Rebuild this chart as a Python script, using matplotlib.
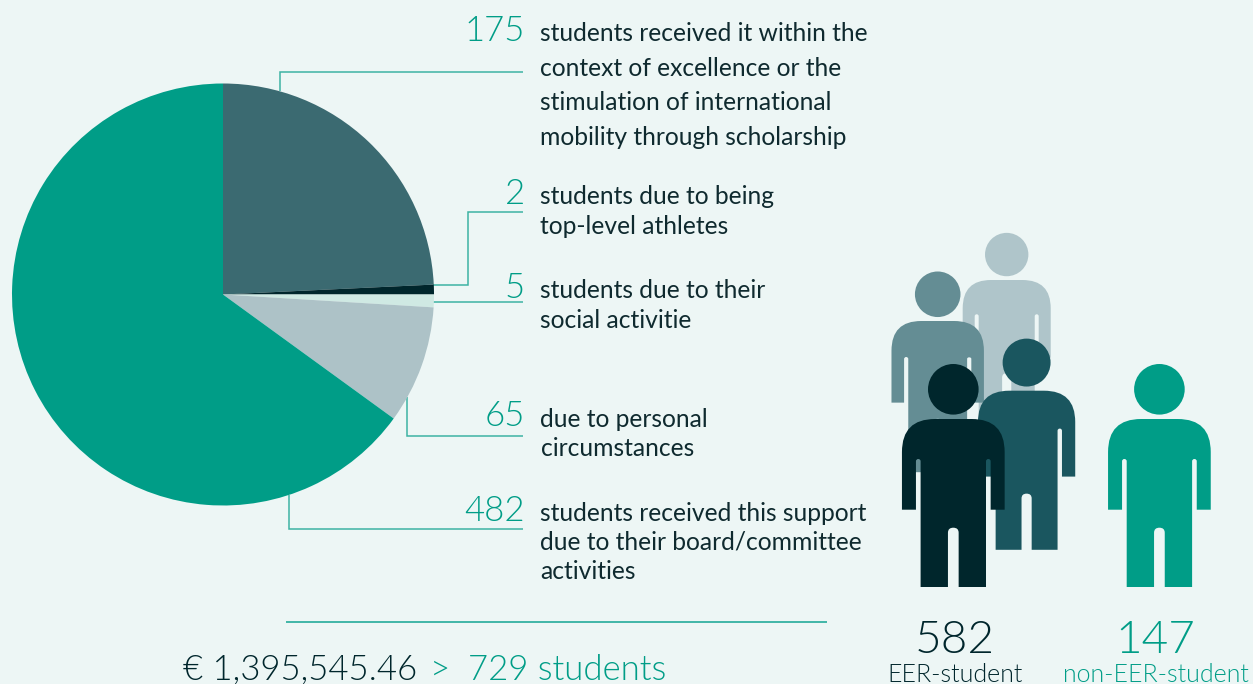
import matplotlib
matplotlib.use('Agg')
import matplotlib.pyplot as plt
from matplotlib.patches import Circle, PathPatch
from matplotlib.path import Path

# labels as printed, wedge sizes as drawn (the picture is not quite proportional)
counts = ['175', '2', '5', '65', '482']
wedge_sizes = [87.3, 2.7, 3.5, 32.5, 234]
wedge_colors = ['#3B6A71', '#00262C', '#CFE9E3', '#ADC2C7', '#009D87']

descriptions = [
    ['students received it within the', 'context of excellence or the',
     'stimulation of international', 'mobility through scholarship'],
    ['students due to being', 'top-level athletes'],
    ['students due to their', 'social activitie'],
    ['due to personal', 'circumstances'],
    ['students received this support', 'due to their board/committee', 'activities'],
]
count_y = [41, 204, 298, 426, 521]
desc_y = [[41, 76, 110, 145], [204, 234], [298, 328], [427, 456], [521, 550, 579]]

leaders = [
    ([280, 280, 523], [91, 72, 72]),
    ([433, 467.5, 467.5, 523], [285, 285, 211.5, 211.5]),
    ([433, 523], [302, 302]),
    ([407, 407, 523], [397, 436, 436]),
    ([289, 289, 523], [495, 529, 529]),
]

# cx, body top, scale, colour - back to front
people = [
    (1006.7, 280, 0.857, '#AFC5CA'),
    (937.7, 321, 0.90, '#648D94'),
    (1026.6, 390.7, 0.947, '#1A565F'),
    (953.3, 419, 1.0, '#00262C'),
    (1159.4, 419, 1.0, '#009D87'),
]

totals = ['582', '147']
total_labels = ['EER-student', 'non-EER-student']

BG = '#EDF6F5'
TEAL = '#009D87'
DARK = '#00262C'
LINE = '#3DB3A3'
W, H = 1253, 684

plt.rcParams['font.family'] = ['Lato', 'DejaVu Sans']

fig = plt.figure(figsize=(W / 100, H / 100), dpi=100, facecolor=BG)
ax = fig.add_axes([0, 0, 1, 1])
ax.set_xlim(0, W)
ax.set_ylim(H, 0)
ax.axis('off')

pie_ax = fig.add_axes([12 / W, (H - 505.5) / H, 422 / W, 422 / H])
pie_ax.pie(wedge_sizes, colors=wedge_colors, startangle=90, counterclock=False, radius=1)
pie_ax.set_xlim(-1, 1)
pie_ax.set_ylim(-1, 1)


def person(cx, top, s, color):
    hw, arm_in, torso = 51.35, 37.35, 32.7
    arm_y, slot_y, foot, gap, gap_y = 90.7, 40, 168, 5.35, 108.7
    r = 33
    pts = [(-hw, arm_y), (-hw, r), (-hw, 0), (-hw + r, 0), (hw - r, 0), (hw, 0), (hw, r),
           (hw, arm_y), (arm_in, arm_y),
           (arm_in, slot_y + 2.3), (arm_in, slot_y), ((arm_in + torso) / 2, slot_y),
           (torso, slot_y), (torso, slot_y + 2.3),
           (torso, foot), (gap, foot),
           (gap, gap_y + 5), (gap, gap_y), (0, gap_y), (-gap, gap_y), (-gap, gap_y + 5),
           (-gap, foot), (-torso, foot),
           (-torso, slot_y + 2.3), (-torso, slot_y), (-(arm_in + torso) / 2, slot_y),
           (-arm_in, slot_y), (-arm_in, slot_y + 2.3),
           (-arm_in, arm_y), (-hw, arm_y)]
    L, C = Path.LINETO, Path.CURVE3
    codes = [Path.MOVETO, L, C, C, L, C, C, L, L, L, C, C, C, C, L, L, L, C, C, C, C, L, L, L, C, C, C, C, L, Path.CLOSEPOLY]
    verts = [(cx + x * s, top + y * s) for x, y in pts]
    ax.add_patch(PathPatch(Path(verts, codes), fc=color, ec='none', zorder=3))
    ax.add_patch(Circle((cx, top - 29.7 * s), 25.3 * s, fc=color, ec='none', zorder=3))


for cx, top, s, color in people:
    person(cx, top, s, color)

for xs, ys in leaders:
    ax.plot(xs, ys, color=LINE, lw=1.1, solid_joinstyle='miter', solid_capstyle='butt', zorder=2)
ax.plot([286, 827], [622, 622], color='#12A592', lw=1.1, solid_capstyle='butt')

for n, y in zip(counts, count_y):
    ax.text(525, y, n, color=TEAL, fontsize=25, fontweight=300, ha='right', va='baseline')
for lines, ys in zip(descriptions, desc_y):
    for line, y in zip(lines, ys):
        ax.text(540.5, y, line, color='#0F2A2F', fontsize=17.7, ha='left', va='baseline')

ax.text(955, 653, totals[0], color=DARK, fontsize=33, fontweight=300, ha='center', va='baseline')
ax.text(1155, 653, totals[1], color=TEAL, fontsize=33, fontweight=300, ha='center', va='baseline')
ax.text(955.5, 682, total_labels[0], color=DARK, fontsize=18, fontweight=300, ha='center', va='baseline')
ax.text(1155.5, 682, total_labels[1], color=TEAL, fontsize=18, fontweight=300, ha='center', va='baseline')

ax.text(183, 680, '€ 1,395,545.46', color=DARK, fontsize=25, fontweight=300, ha='left', va='baseline')
ax.text(430, 680, '>', color=TEAL, fontsize=25, fontweight=300, ha='left', va='baseline')
ax.text(468, 680, '729 students', color=TEAL, fontsize=25, fontweight=300, ha='left', va='baseline')

fig.savefig('out.png', dpi=100, facecolor=BG)
